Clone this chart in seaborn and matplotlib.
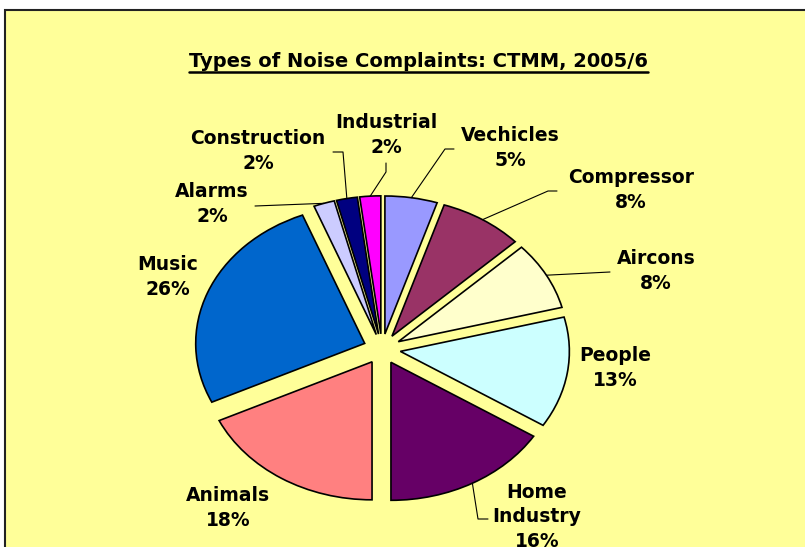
import matplotlib
matplotlib.use("Agg")
import matplotlib.pyplot as plt
import matplotlib.patches as mpatches
import matplotlib.lines as mlines
import seaborn as sns
import numpy as np

# data
categories = ["Vechicles", "Compressor", "Aircons", "People", "Home\nIndustry",
              "Animals", "Music", "Alarms", "Construction", "Industrial"]
shares = [5, 8, 8, 13, 16, 18, 26, 2, 2, 2]
colors = ["#9999FF", "#993366", "#FFFFCC", "#CCFFFF", "#660066",
          "#FF8080", "#0066CC", "#CCCCFF", "#000080", "#FF00FF"]
title = "Types of Noise Complaints: CTMM, 2005/6"

sns.set_style("white")
plt.rcParams["font.family"] = ["DejaVu Sans"]
plt.rcParams["text.color"] = "black"

W, H = 805, 547
fig = plt.figure(figsize=(W / 100, H / 100), dpi=100, facecolor="white")

# yellow chart area with border (right/bottom run off the image)
bg = mpatches.Rectangle((5 / W, -0.02), 1.05, 1 - 10 / H + 0.02,
                        transform=fig.transFigure, facecolor="#FFFF99",
                        edgecolor="#222222", linewidth=1.5, zorder=-5)
fig.patches.append(bg)

ax = fig.add_axes([0, 0, 1, 1])
ax.patch.set_alpha(0)

wedges, _ = ax.pie(shares, colors=colors, startangle=90, counterclock=False,
                   explode=[0.11] * len(shares), radius=1,
                   wedgeprops=dict(edgecolor="black", linewidth=1.2))

# squash the pie into an ellipse like the Excel original
cx, cy, rx, ry = 382, 349, 169, 138
ax.set_aspect("auto")
ax.set_xlim(-cx / rx, (W - cx) / rx)
ax.set_ylim((cy - H) / ry, cy / ry)
ax.axis("off")


def px(x, y):
    return ax.transData.inverted().transform((x, H - y))


# label placement (pixel centres) and leader elbows
label_pos = {"Vechicles": (510, 148), "Compressor": (631, 190), "Aircons": (656, 271),
             "People": (615, 368), "Home\nIndustry": (537, 517), "Animals": (228, 508),
             "Music": (168, 277), "Alarms": (212, 204), "Construction": (258, 151),
             "Industrial": (386, 135)}
leaders = {"Industrial": [(386, 163), (386, 172)],
           "Construction": [(333, 152), (343, 152)],
           "Alarms": [(255, 206)],
           "Vechicles": [(454, 149), (445, 149)],
           "Compressor": [(557, 191), (548, 191)],
           "Aircons": [(610, 272)],
           "Home\nIndustry": [(488, 519), (478, 519)]}

total = sum(shares)
for w, cat, val in zip(wedges, categories, shares):
    pct = round(100 * val / total)
    lx, ly = px(*label_pos[cat])
    ax.text(lx, ly, f"{cat}\n{pct}%", ha="center", va="center", fontsize=13.5,
            fontweight="bold", linespacing=1.35, color="black")
    if cat in leaders:
        mid = np.deg2rad((w.theta1 + w.theta2) / 2)
        ax_, ay_ = w.center[0] + np.cos(mid), w.center[1] + np.sin(mid)
        pts = [px(*p) for p in leaders[cat]] + [(ax_, ay_)]
        xs, ys = zip(*pts)
        ax.add_line(mlines.Line2D(xs, ys, color="black", linewidth=0.8))

# underlined title
t = fig.text(418 / W, 1 - 67 / H, title, ha="center", va="baseline",
             fontsize=14, fontweight="bold", color="black")
fig.canvas.draw()
bb = t.get_window_extent()
fig.lines.append(mlines.Line2D([bb.x0 / W, bb.x1 / W], [1 - 72 / H] * 2,
                               transform=fig.transFigure, color="black", linewidth=1.8))

fig.savefig("out.png", dpi=100, facecolor="white")
